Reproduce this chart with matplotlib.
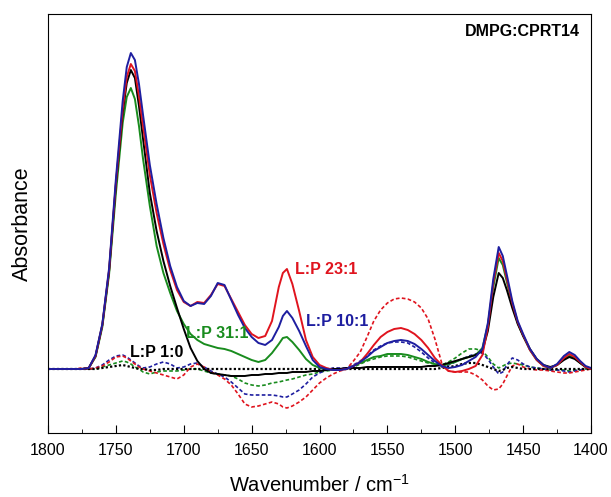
import matplotlib
matplotlib.use("Agg")
import matplotlib.pyplot as plt
import matplotlib.ticker as ticker

plt.rcParams["font.family"] = ["Liberation Sans", "DejaVu Sans"]
plt.rcParams["mathtext.default"] = "regular"

# wavenumber grid (cm-1)
wn = [1800, 1790, 1780, 1775, 1770,
      1765, 1760, 1755, 1750, 1745,
      1742, 1739, 1736, 1733, 1730,
      1725, 1720, 1715, 1710, 1705,
      1700, 1695, 1690, 1685, 1680,
      1675, 1670, 1665, 1660, 1655,
      1650, 1645, 1640, 1635, 1630,
      1627, 1624, 1620, 1615, 1610,
      1605, 1600, 1595, 1590, 1585,
      1580, 1575, 1570, 1565, 1560,
      1555, 1550, 1545, 1540, 1535,
      1530, 1525, 1520, 1515, 1510,
      1505, 1500, 1495, 1490, 1485,
      1480, 1476, 1472, 1468, 1465,
      1462, 1458, 1454, 1450, 1445,
      1440, 1435, 1430, 1425, 1420,
      1416, 1412, 1408, 1404, 1400]

# absorbance spectra (solid)
lp_1_0 = [0, 0, 0, 0, 1,
          13, 44, 98, 184, 256,
          286, 299, 291, 263, 230,
          176, 138, 108, 83, 61,
          40, 21, 8, 0, -4,
          -5, -6, -7, -7, -7,
          -6, -6, -5, -5, -4,
          -4, -4, -3, -3, -3,
          -2, -2, -1, 0, 0,
          1, 1, 1, 2, 2,
          2, 2, 2, 2, 2,
          2, 2, 3, 3, 4,
          6, 8, 10, 12, 14,
          18, 38, 72, 96, 91,
          79, 61, 45, 33, 20,
          10, 4, 2, 4, 9,
          12, 10, 6, 2, 0]

lp_23_1 = [0, 0, 0, 0, 1,
           13, 44, 99, 186, 260,
           292, 305, 298, 273, 243,
           194, 156, 125, 99, 79,
           67, 63, 67, 66, 74,
           85, 83, 70, 57, 44,
           35, 31, 33, 48, 82,
           96, 100, 85, 58, 29,
           12, 4, 1, -1, -1,
           0, 3, 7, 15, 24,
           32, 37, 40, 41, 39,
           35, 29, 21, 11, 4,
           -2, -3, -2, 0, 3,
           14, 42, 86, 116, 108,
           90, 66, 47, 34, 19,
           9, 3, 1, 4, 11,
           15, 12, 7, 2, 0]

lp_10_1 = [0, 0, 0, 0, 1,
           14, 45, 101, 190, 268,
           302, 316, 309, 285, 254,
           204, 165, 131, 103, 82,
           68, 63, 66, 65, 73,
           86, 84, 69, 54, 41,
           32, 26, 24, 29, 42,
           53, 58, 51, 38, 23,
           9, 2, 0, -1, -1,
           0, 3, 7, 12, 18,
           22, 26, 28, 29, 28,
           25, 20, 14, 8, 3,
           1, 2, 4, 8, 12,
           20, 46, 90, 122, 113,
           94, 68, 48, 35, 20,
           10, 4, 1, 5, 13,
           17, 14, 8, 3, 1]

lp_31_1 = [0, 0, 0, 0, 1,
           12, 42, 95, 176, 246,
           272, 281, 270, 243, 210,
           163, 123, 96, 76, 58,
           45, 35, 29, 25, 23,
           21, 20, 18, 15, 12,
           9, 7, 9, 16, 25,
           31, 32, 27, 19, 10,
           4, 1, 0, -1, 0,
           0, 3, 6, 9, 12,
           13, 15, 15, 15, 14,
           12, 10, 7, 5, 3,
           5, 7, 10, 12, 14,
           21, 44, 82, 111, 104,
           87, 64, 46, 33, 19,
           9, 3, 1, 4, 10,
           13, 11, 6, 2, 0]

# difference spectra (dotted)
d_1_0 = [0, 0, 0, 0, 0,
         0, 1, 2, 3, 4,
         3, 2, 1, 0, 0,
         -1, -1, 0, 0, 0,
         0, 0, 0, 0, 0,
         0, 0, 0, 0, 0,
         0, 0, 0, 0, 0,
         0, 0, 0, 0, 0,
         0, 0, 0, 0, 0,
         0, 0, 0, 0, 0,
         0, 0, 0, 0, 0,
         0, 0, 0, 0, 1,
         2, 3, 5, 6, 6,
         4, 2, 0, -2, -1,
         1, 2, 1, 0, 0,
         0, 0, 0, 0, 0,
         0, 0, 0, 0, 0]

d_23_1 = [0, 0, 0, 1, 0,
          1, 3, 7, 12, 13,
          11, 8, 5, 2, 0,
          -2, -4, -6, -8, -10,
          -6, 2, 5, 2, -3,
          -6, -10, -16, -25, -35,
          -38, -37, -35, -33, -35,
          -38, -39, -37, -33, -28,
          -21, -14, -9, -5, -2,
          0, 8, 17, 32, 48,
          59, 66, 70, 71, 70,
          67, 61, 50, 30, 6,
          -2, -3, -3, -3, -6,
          -11, -17, -21, -20, -15,
          -7, 3, 5, 2, 0,
          -1, -1, -2, -3, -4,
          -4, -3, -2, -1, 0]

d_10_1 = [0, 0, 0, 0, 0,
          1, 4, 9, 13, 14,
          12, 9, 6, 3, 1,
          2, 5, 7, 5, 1,
          2, 5, 6, 2, -2,
          -5, -8, -13, -19, -25,
          -26, -26, -26, -26, -27,
          -28, -28, -25, -21, -15,
          -8, -4, -1, 1, 1,
          1, 4, 8, 13, 19,
          23, 26, 27, 27, 26,
          22, 17, 11, 6, 2,
          4, 7, 10, 13, 15,
          16, 10, 2, -5, -3,
          4, 11, 9, 5, 2,
          1, 0, -1, -1, -2,
          -3, -2, -1, 1, 2]

d_31_1 = [0, 0, 0, 0, 0,
          0, 2, 4, 6, 8,
          7, 5, 2, 0, -3,
          -5, -3, -2, -2, -2,
          -1, 0, 0, -2, -4,
          -5, -6, -7, -10, -14,
          -16, -17, -16, -14, -13,
          -12, -11, -10, -8, -6,
          -5, -3, -2, -1, 0,
          0, 2, 5, 8, 10,
          12, 13, 13, 13, 12,
          10, 8, 6, 5, 4,
          7, 11, 16, 20, 20,
          18, 12, 5, 1, 3,
          5, 6, 5, 4, 2,
          1, 0, -1, -1, -1,
          -2, -1, -1, 0, 1]

red = "#e0141e"
blue = "#1e1ea0"
green = "#198c1e"

fig = plt.figure(figsize=(6.11, 4.97), dpi=100)
ax = fig.add_axes([0.0786, 0.1288, 0.8887, 0.843])

dot = (0, (2.2, 1.4))
ax.plot(wn, d_31_1, color=green, lw=1.2, ls=dot)
ax.plot(wn, d_10_1, color=blue, lw=1.2, ls=dot)
ax.plot(wn, d_23_1, color=red, lw=1.2, ls=dot)
ax.plot(wn, d_1_0, color="black", lw=1.6, ls=(0, (1, 1)))

ax.plot(wn, lp_31_1, color=green, lw=1.4)
ax.plot(wn, lp_1_0, color="black", lw=1.4)
ax.plot(wn, lp_23_1, color=red, lw=1.4)
ax.plot(wn, lp_10_1, color=blue, lw=1.4)

# labels on the curves
ax.text(1595, 99, "L:P 23:1", color=red, fontsize=11.5, fontweight="bold", ha="center", va="center")
ax.text(1587, 47, "L:P 10:1", color=blue, fontsize=11.5, fontweight="bold", ha="center", va="center")
ax.text(1675, 35, "L:P 31:1", color=green, fontsize=11.5, fontweight="bold", ha="center", va="center")
ax.text(1720, 16, "L:P 1:0", color="black", fontsize=11.5, fontweight="bold", ha="center", va="center")
ax.text(0.98, 0.959, "DMPG:CPRT14", transform=ax.transAxes, fontsize=11.5, fontweight="bold",
        ha="right", va="center")

ax.set_xlim(1800, 1400)
ax.set_ylim(-64, 355)
ax.xaxis.set_major_locator(ticker.MultipleLocator(50))
ax.xaxis.set_minor_locator(ticker.MultipleLocator(25))
ax.tick_params(axis="x", which="both", direction="in", top=False, labelsize=11.5, pad=7)
ax.tick_params(axis="x", which="major", length=6)
ax.tick_params(axis="x", which="minor", length=3)
ax.set_yticks([])
ax.set_xlabel("Wavenumber / cm$^{-1}$", fontsize=14.5, labelpad=12)
ax.set_ylabel("Absorbance", fontsize=15.5, labelpad=11)

fig.savefig("out.png", dpi=100)
